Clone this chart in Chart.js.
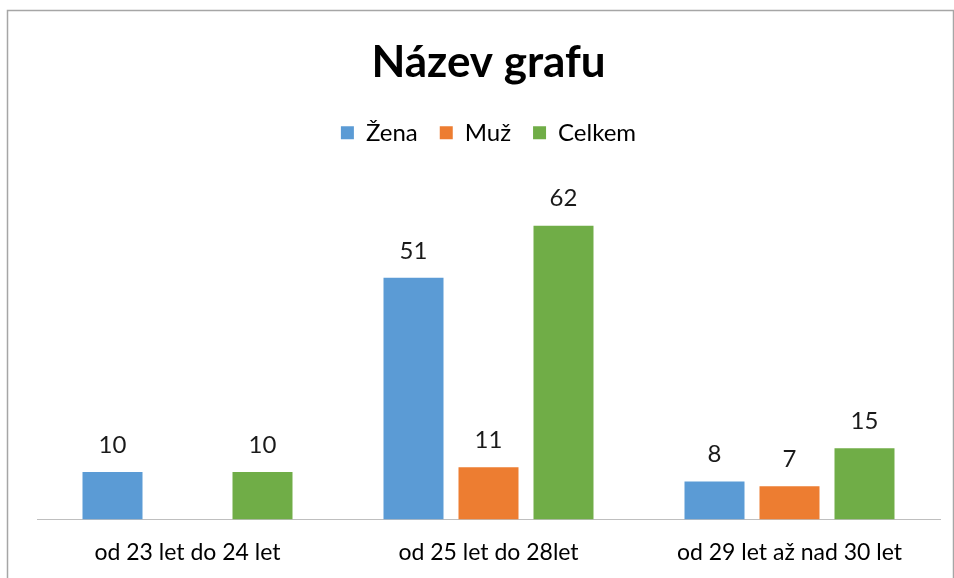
<!DOCTYPE html>
<html>
<head>
<meta charset="utf-8">
<script src="https://cdn.jsdelivr.net/npm/chart.js@4"></script>
<style>
  html, body { margin: 0; padding: 0; background: #fff; }
  #wrap { width: 954px; height: 578px; }
</style>
</head>
<body>
<div id="wrap"><canvas id="myChart" width="954" height="578"></canvas></div>
<script>
"use strict";

const categories = ['od 23 let do 24 let', 'od 25 let do 28let', 'od 29 let až nad 30 let'];
const zena = [10, 51, 8];
const muz = [null, 11, 7];
const celkem = [10, 62, 15];

const FONT = 'Lato, "Open Sans", sans-serif';

// frame round the whole chart, like the Excel chart area
const framePlugin = {
    id: 'frame',
    beforeDraw(chart) {
        const ctx = chart.ctx;
        ctx.save();
        ctx.fillStyle = '#fff';
        ctx.fillRect(0, 0, chart.width, chart.height);
        ctx.strokeStyle = '#a6a6a6';
        ctx.lineWidth = 1.5;
        ctx.strokeRect(7.5, 10.5, 946, 600);
        ctx.restore();
    }
};

// extra space under the legend
const legendGapPlugin = {
    id: 'legendGap',
    beforeInit(chart) {
        const fit = chart.legend.fit;
        chart.legend.fit = function () {
            fit.call(this);
            this.height += 33;
        };
    }
};

// value labels above bars
const valueLabels = {
    id: 'valueLabels',
    afterDatasetsDraw(chart) {
        const ctx = chart.ctx;
        ctx.save();
        ctx.font = `24px ${FONT}`;
        ctx.fillStyle = '#1a1a1a';
        ctx.textAlign = 'center';
        ctx.textBaseline = 'middle';
        chart.data.datasets.forEach((ds, i) => {
            chart.getDatasetMeta(i).data.forEach((bar, j) => {
                const v = ds.data[j];
                if (v === null || v === undefined) return;
                ctx.fillText(String(v), bar.x, bar.y - 27);
            });
        });
        ctx.restore();
    }
};

new Chart(document.getElementById('myChart'), {
    type: 'bar',
    data: {
        labels: categories,
        datasets: [
            { label: 'Žena', data: zena, backgroundColor: '#5b9bd5' },
            { label: 'Muž', data: muz, backgroundColor: '#ed7d31' },
            { label: 'Celkem', data: celkem, backgroundColor: '#70ad47' }
        ]
    },
    options: {
        responsive: false,
        animation: false,
        categoryPercentage: 0.7475,
        barPercentage: 0.8,
        layout: {
            padding: { left: 37, right: 14, top: 10, bottom: -7 }
        },
        plugins: {
            title: {
                display: true,
                text: 'Název grafu',
                color: '#000',
                font: { family: FONT, size: 44, weight: 'bold', lineHeight: 1.2 },
                padding: { top: 26, bottom: 10 }
            },
            legend: {
                display: true,
                labels: {
                    color: '#000',
                    font: { family: FONT, size: 24 },
                    boxWidth: 13,
                    boxHeight: 13,
                    padding: 22
                }
            },
            tooltip: { enabled: false }
        },
        scales: {
            x: {
                grid: { display: false, drawTicks: false },
                border: { display: true, color: '#bfbfbf', width: 1 },
                ticks: {
                    color: '#000',
                    font: { family: FONT, size: 23 },
                    padding: 19
                }
            },
            y: {
                display: false,
                min: 0,
                max: 70
            }
        }
    },
    plugins: [framePlugin, legendGapPlugin, valueLabels]
});
</script>
</body>
</html>
